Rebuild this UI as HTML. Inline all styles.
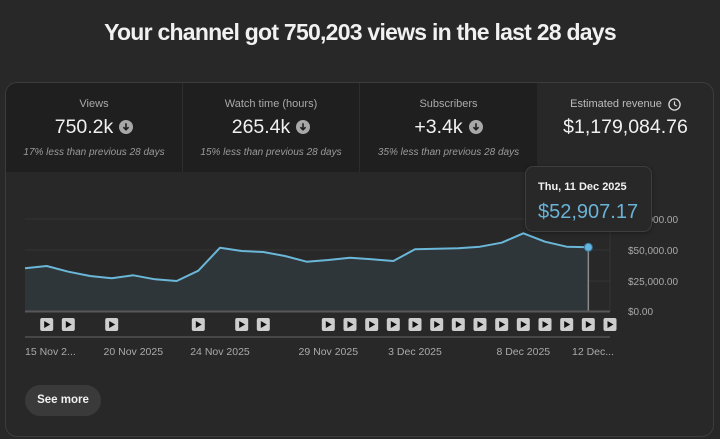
<!DOCTYPE html>
<html>
<head>
<meta charset="utf-8">
<style>
  html,body{margin:0;padding:0;}
  body{width:720px;height:439px;background:#282828;position:relative;overflow:hidden;font-family:"Liberation Sans",Arial,sans-serif;color:#fff;}
  .abs{position:absolute;}
  .title{left:0;width:720px;top:17px;text-align:center;font-size:23px;font-weight:bold;letter-spacing:-0.75px;line-height:30px;color:#f1f1f1;white-space:nowrap;}
  .card{left:5px;top:82px;width:709px;height:355px;box-sizing:border-box;border:1px solid #3c3c3c;border-radius:12px;background:#282828;}
  .tiles{left:6px;top:83px;width:531px;height:89px;background:#1f1f1f;border-top-left-radius:11px;}
  .sep{top:83px;width:1px;height:89px;background:#2d2d2d;}
  .lbl{font-size:11px;color:#aaaaaa;text-align:center;line-height:14px;white-space:nowrap;}
  .val{display:flex;justify-content:center;align-items:center;font-size:19.5px;line-height:24px;color:#f1f1f1;white-space:nowrap;}
  .val svg{margin-left:6px;}
  .sub{font-size:10px;font-style:italic;color:#9a9a9a;text-align:center;line-height:13px;white-space:nowrap;}
  .tip{left:525px;top:166px;width:127px;height:66px;box-sizing:border-box;background:#282828;border:1px solid #3e3e3e;border-radius:8px;box-shadow:0 1px 4px rgba(0,0,0,0.35);}
  .tip .d{position:absolute;left:12px;top:14px;font-size:11px;font-weight:bold;color:#f1f1f1;white-space:nowrap;}
  .tip .v{position:absolute;left:12px;top:33px;font-size:20px;color:#6ab2d6;white-space:nowrap;line-height:24px;}
  .btn{left:25px;top:385px;width:76px;height:31px;border-radius:16px;background:#3a3a3a;text-align:center;line-height:31px;font-size:11.5px;font-weight:bold;color:#f1f1f1;}
</style>
</head>
<body>
<div class="abs title">Your channel got 750,203 views in the last 28 days</div>
<div class="abs card"></div>
<div class="abs tiles"></div>
<div class="abs sep" style="left:182px"></div>
<div class="abs sep" style="left:359px"></div>

<!-- Tile 1 -->
<div class="abs lbl" style="left:6px;width:176px;top:97px;">Views</div>
<div class="abs val" style="left:6px;width:176px;top:115px;">750.2k<svg width="14" height="14" viewBox="0 0 14 14"><circle cx="7" cy="7" r="7" fill="#a8a8a8"/><path d="M7 3.2v6.2M4.4 7.2L7 9.8 9.6 7.2" stroke="#1f1f1f" stroke-width="1.6" fill="none"/></svg></div>
<div class="abs sub" style="left:6px;width:176px;top:146px;">17% less than previous 28 days</div>

<!-- Tile 2 -->
<div class="abs lbl" style="left:183px;width:176px;top:97px;">Watch time (hours)</div>
<div class="abs val" style="left:183px;width:176px;top:115px;">265.4k<svg width="14" height="14" viewBox="0 0 14 14"><circle cx="7" cy="7" r="7" fill="#a8a8a8"/><path d="M7 3.2v6.2M4.4 7.2L7 9.8 9.6 7.2" stroke="#1f1f1f" stroke-width="1.6" fill="none"/></svg></div>
<div class="abs sub" style="left:183px;width:176px;top:146px;">15% less than previous 28 days</div>

<!-- Tile 3 -->
<div class="abs lbl" style="left:360px;width:177px;top:97px;">Subscribers</div>
<div class="abs val" style="left:360px;width:177px;top:115px;">+3.4k<svg width="14" height="14" viewBox="0 0 14 14"><circle cx="7" cy="7" r="7" fill="#a8a8a8"/><path d="M7 3.2v6.2M4.4 7.2L7 9.8 9.6 7.2" stroke="#1f1f1f" stroke-width="1.6" fill="none"/></svg></div>
<div class="abs sub" style="left:360px;width:177px;top:146px;">35% less than previous 28 days</div>

<!-- Tile 4 -->
<div class="abs lbl" style="left:537px;width:177px;top:97px;display:flex;justify-content:center;align-items:center;color:#bdbdbd;">Estimated revenue<svg style="margin-left:6px" width="13" height="13" viewBox="0 0 13 13"><circle cx="6.5" cy="6.5" r="5.6" stroke="#dcdcdc" stroke-width="1.3" fill="none"/><path d="M6.5 3.4v3.3l2.2 1.4" stroke="#dcdcdc" stroke-width="1.2" fill="none"/></svg></div>
<div class="abs val" style="left:537px;width:177px;top:115px;">$1,179,084.76</div>

<!-- Chart -->
<svg class="abs" style="left:0;top:0" width="720" height="439" viewBox="0 0 720 439">
  <g stroke="#353535" stroke-width="1">
    <line x1="25" y1="219" x2="610" y2="219"/>
    <line x1="25" y1="250" x2="610" y2="250"/>
    <line x1="25" y1="281" x2="610" y2="281"/>
  </g>
  <line x1="610" y1="172" x2="610" y2="311" stroke="#333" stroke-width="1"/>
  <path d="M25,268.3 L46.67,266 L68.33,271.7 L90,276 L111.67,278.3 L133.33,275.3 L155,279.3 L176.67,281 L198.33,270.7 L220,247.7 L241.67,251 L263.33,252 L285,256 L306.67,261.7 L328.33,260 L350,257.7 L371.67,259.3 L393.33,261 L415,249.3 L436.67,248.7 L458.33,248.3 L480,246.7 L501.67,242.7 L523.33,233.3 L545,241.7 L566.67,246.7 L588.33,247.3 L588.33,311 L25,311 Z" fill="#2f363a"/>
  <path d="M25,268.3 L46.67,266 L68.33,271.7 L90,276 L111.67,278.3 L133.33,275.3 L155,279.3 L176.67,281 L198.33,270.7 L220,247.7 L241.67,251 L263.33,252 L285,256 L306.67,261.7 L328.33,260 L350,257.7 L371.67,259.3 L393.33,261 L415,249.3 L436.67,248.7 L458.33,248.3 L480,246.7 L501.67,242.7 L523.33,233.3 L545,241.7 L566.67,246.7 L588.33,247.3" fill="none" stroke="#6ab7d8" stroke-width="2" stroke-linejoin="round"/>
  <line x1="588.33" y1="247" x2="588.33" y2="311" stroke="#8a8a8a" stroke-width="1.5"/>
  <line x1="25" y1="311.5" x2="610" y2="311.5" stroke="#585858" stroke-width="2"/>
  <line x1="25" y1="337" x2="610" y2="337" stroke="#474747" stroke-width="2"/>
  <circle cx="588.33" cy="247.3" r="4" fill="#62b5e0" stroke="#3d7896" stroke-width="1"/>

  <g font-family="Liberation Sans, Arial, sans-serif" font-size="10" fill="#aaaaaa">
    <text x="628" y="223">$75,000.00</text>
    <text x="628" y="254">$50,000.00</text>
    <text x="628" y="285">$25,000.00</text>
    <text x="628" y="315">$0.00</text>
  </g>
  <g font-family="Liberation Sans, Arial, sans-serif" font-size="10.5" fill="#aaaaaa">
    <text x="25" y="355">15 Nov 2...</text>
    <text x="133.3" y="355" text-anchor="middle">20 Nov 2025</text>
    <text x="220" y="355" text-anchor="middle">24 Nov 2025</text>
    <text x="328.3" y="355" text-anchor="middle">29 Nov 2025</text>
    <text x="415" y="355" text-anchor="middle">3 Dec 2025</text>
    <text x="523.3" y="355" text-anchor="middle">8 Dec 2025</text>
    <text x="572" y="355">12 Dec...</text>
  </g>

  <g id="pb">
    <!-- play buttons -->
  </g>
  <g fill="#cdcdcd">
    <rect x="40.2" y="318" width="13" height="13" rx="2"/>
    <rect x="61.8" y="318" width="13" height="13" rx="2"/>
    <rect x="105.2" y="318" width="13" height="13" rx="2"/>
    <rect x="191.8" y="318" width="13" height="13" rx="2"/>
    <rect x="235.2" y="318" width="13" height="13" rx="2"/>
    <rect x="256.8" y="318" width="13" height="13" rx="2"/>
    <rect x="321.8" y="318" width="13" height="13" rx="2"/>
    <rect x="343.5" y="318" width="13" height="13" rx="2"/>
    <rect x="365.2" y="318" width="13" height="13" rx="2"/>
    <rect x="386.8" y="318" width="13" height="13" rx="2"/>
    <rect x="408.5" y="318" width="13" height="13" rx="2"/>
    <rect x="430.2" y="318" width="13" height="13" rx="2"/>
    <rect x="451.8" y="318" width="13" height="13" rx="2"/>
    <rect x="473.5" y="318" width="13" height="13" rx="2"/>
    <rect x="495.2" y="318" width="13" height="13" rx="2"/>
    <rect x="516.8" y="318" width="13" height="13" rx="2"/>
    <rect x="538.5" y="318" width="13" height="13" rx="2"/>
    <rect x="560.2" y="318" width="13" height="13" rx="2"/>
    <rect x="581.8" y="318" width="13" height="13" rx="2"/>
    <rect x="603.5" y="318" width="13" height="13" rx="2"/>
  </g>
  <g fill="#111">
    <path d="M44.2,321 L44.2,328 L50.2,324.5 Z"/>
    <path d="M65.8,321 L65.8,328 L71.8,324.5 Z"/>
    <path d="M109.2,321 L109.2,328 L115.2,324.5 Z"/>
    <path d="M195.8,321 L195.8,328 L201.8,324.5 Z"/>
    <path d="M239.2,321 L239.2,328 L245.2,324.5 Z"/>
    <path d="M260.8,321 L260.8,328 L266.8,324.5 Z"/>
    <path d="M325.8,321 L325.8,328 L331.8,324.5 Z"/>
    <path d="M347.5,321 L347.5,328 L353.5,324.5 Z"/>
    <path d="M369.2,321 L369.2,328 L375.2,324.5 Z"/>
    <path d="M390.8,321 L390.8,328 L396.8,324.5 Z"/>
    <path d="M412.5,321 L412.5,328 L418.5,324.5 Z"/>
    <path d="M434.2,321 L434.2,328 L440.2,324.5 Z"/>
    <path d="M455.8,321 L455.8,328 L461.8,324.5 Z"/>
    <path d="M477.5,321 L477.5,328 L483.5,324.5 Z"/>
    <path d="M499.2,321 L499.2,328 L505.2,324.5 Z"/>
    <path d="M520.8,321 L520.8,328 L526.8,324.5 Z"/>
    <path d="M542.5,321 L542.5,328 L548.5,324.5 Z"/>
    <path d="M564.2,321 L564.2,328 L570.2,324.5 Z"/>
    <path d="M585.8,321 L585.8,328 L591.8,324.5 Z"/>
    <path d="M607.5,321 L607.5,328 L613.5,324.5 Z"/>
  </g>
</svg>

<div class="abs tip">
  <div class="d">Thu, 11 Dec 2025</div>
  <div class="v">$52,907.17</div>
</div>

<div class="abs btn">See more</div>
</body>
</html>
